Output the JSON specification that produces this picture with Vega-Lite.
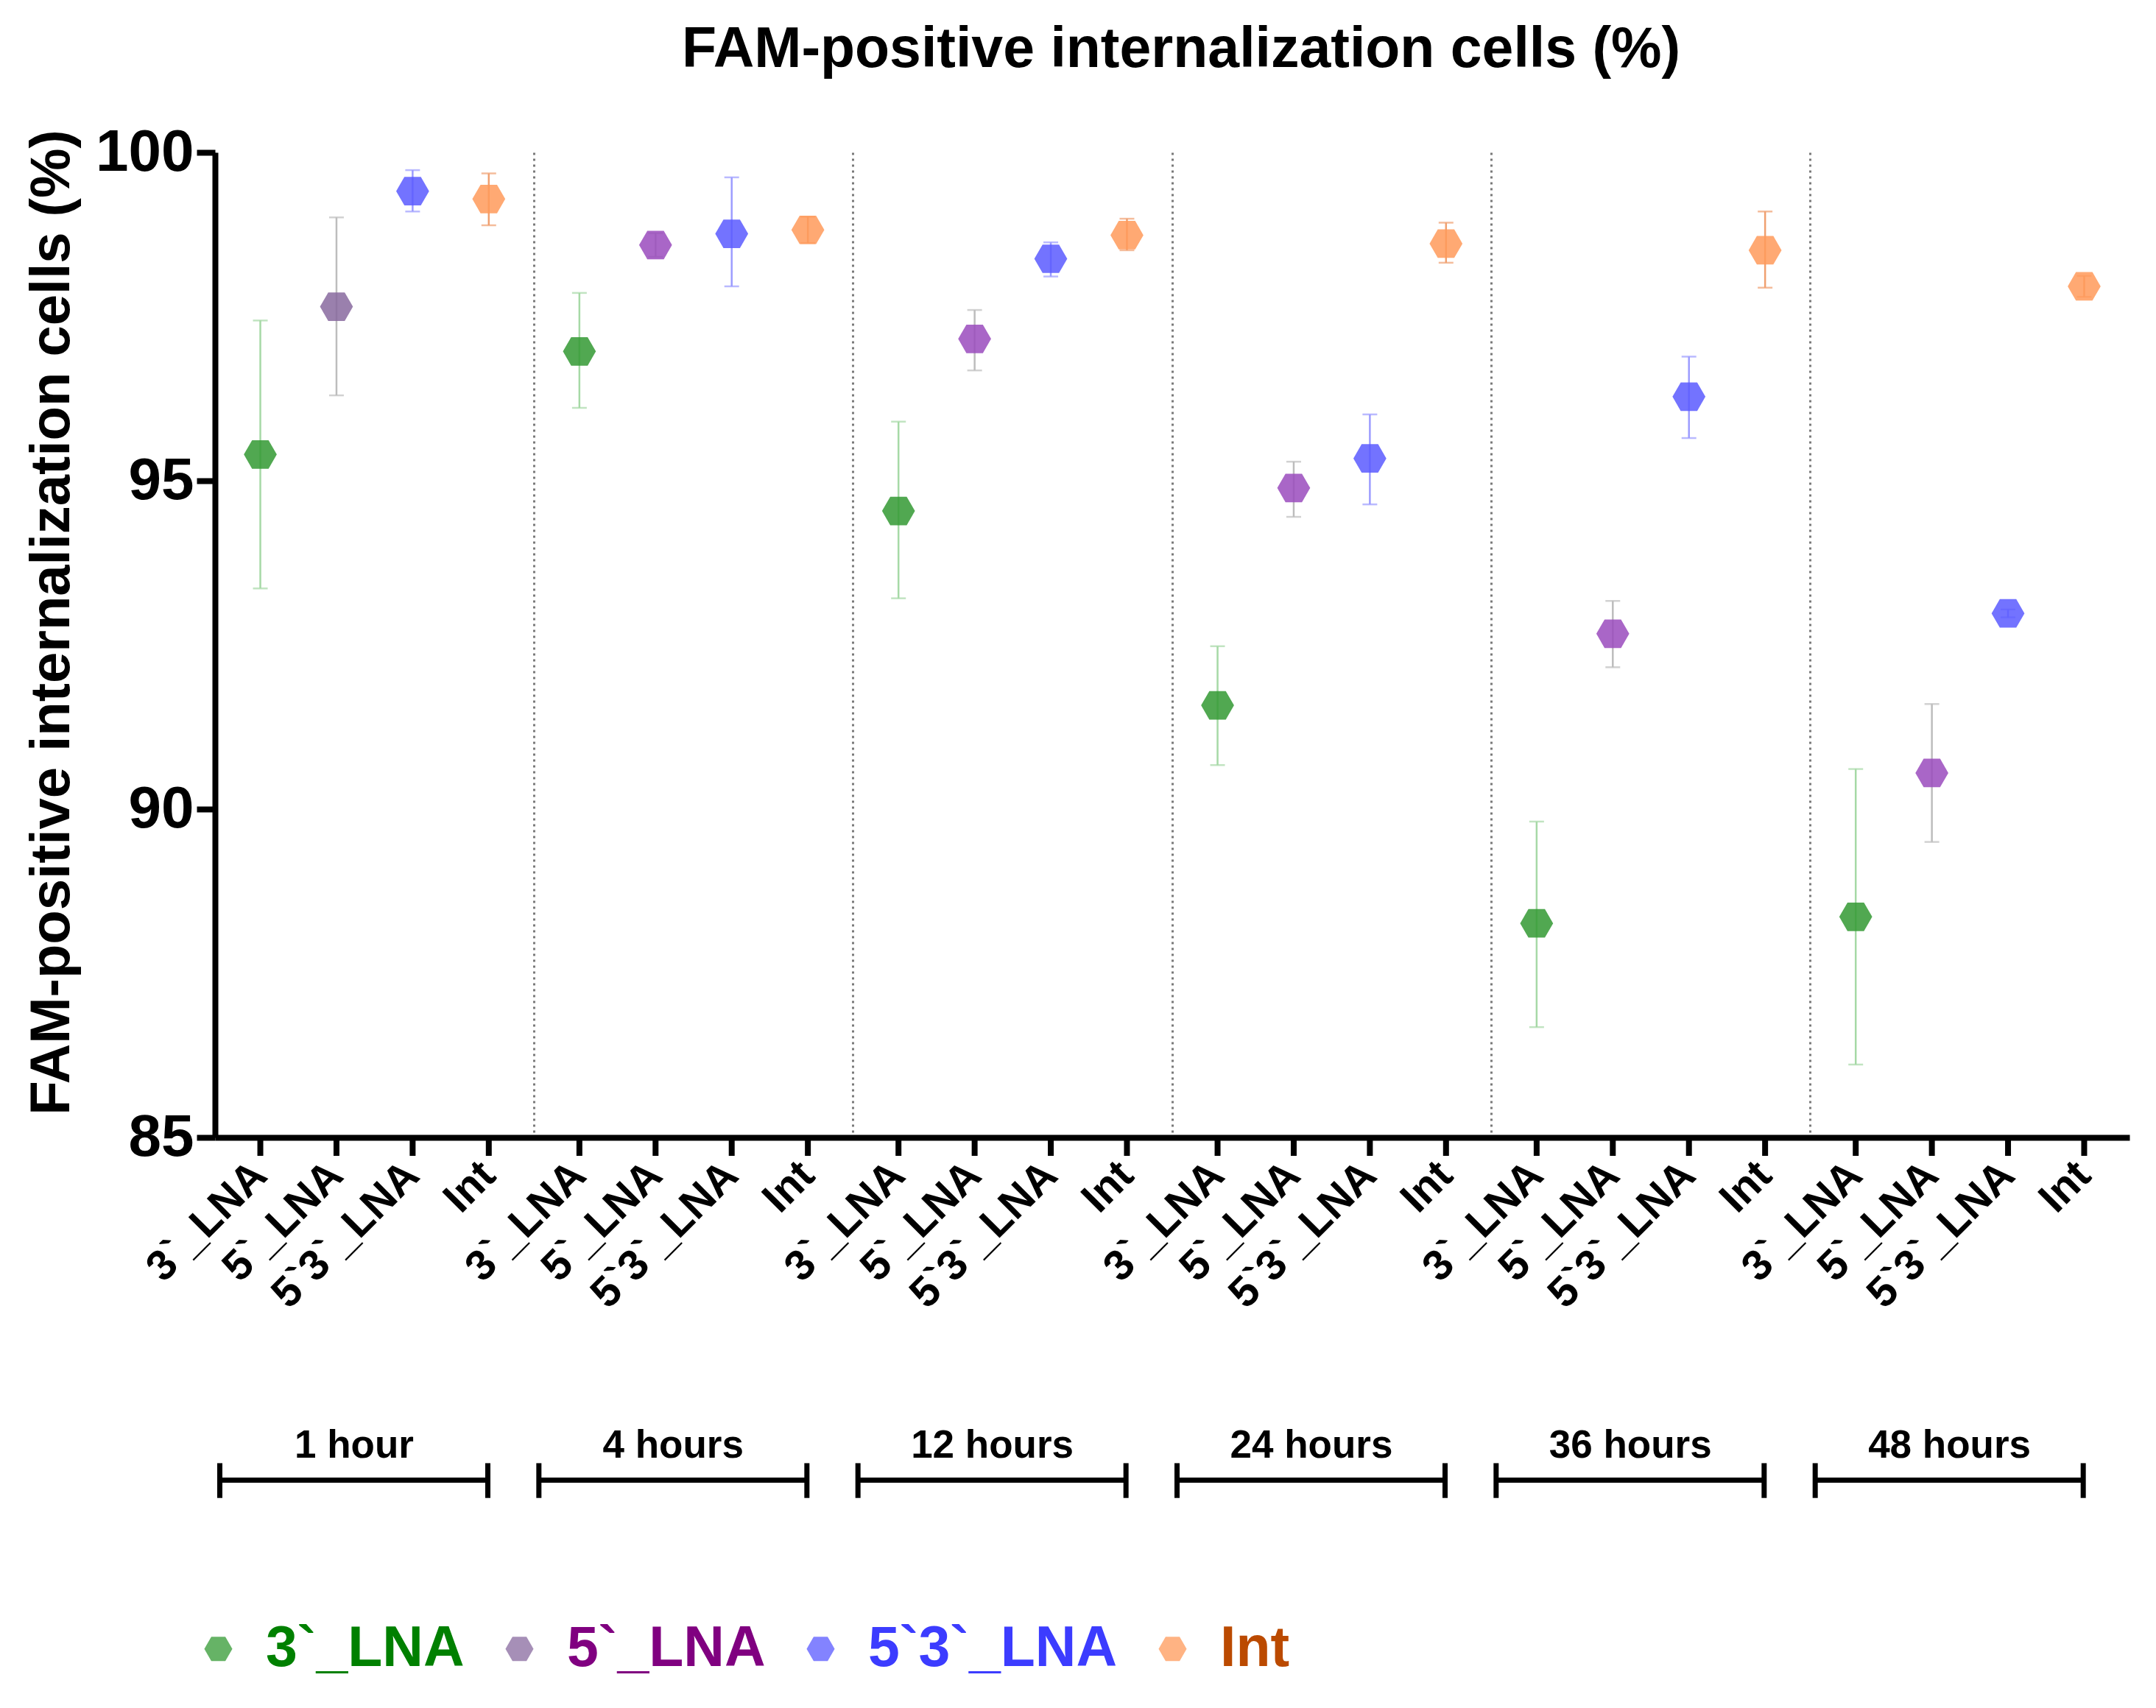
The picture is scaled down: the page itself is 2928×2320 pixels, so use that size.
{
  "$schema": "https://vega.github.io/schema/vega-lite/v6.json",
  "width": 2600,
  "height": 1338,
  "autosize": {"type": "none"},
  "padding": {"left": 292, "top": 207, "right": 36, "bottom": 775},
  "background": "white",
  "title": {
    "text": "FAM-positive internalization cells (%)",
    "font": "Liberation Sans",
    "fontSize": 77,
    "fontWeight": "bold",
    "color": "black",
    "anchor": "middle",
    "dx": 12,
    "offset": 60
  },
  "config": {
    "view": {"stroke": null},
    "font": "Liberation Sans"
  },
  "datasets": {
    "points": [
      {"group": "1 hour", "sample": "3`_LNA", "mean": 95.40, "lo": 93.36, "hi": 97.44},
      {"group": "1 hour", "sample": "5`_LNA", "mean": 97.65, "lo": 96.30, "hi": 99.01},
      {"group": "1 hour", "sample": "5`3`_LNA", "mean": 99.41, "lo": 99.10, "hi": 99.73},
      {"group": "1 hour", "sample": "Int", "mean": 99.29, "lo": 98.89, "hi": 99.68},
      {"group": "4 hours", "sample": "3`_LNA", "mean": 96.97, "lo": 96.11, "hi": 97.86},
      {"group": "4 hours", "sample": "5`_LNA", "mean": 98.59, "lo": 98.41, "hi": 98.77},
      {"group": "4 hours", "sample": "5`3`_LNA", "mean": 98.76, "lo": 97.96, "hi": 99.62},
      {"group": "4 hours", "sample": "Int", "mean": 98.82, "lo": 98.62, "hi": 99.02},
      {"group": "12 hours", "sample": "3`_LNA", "mean": 94.54, "lo": 93.21, "hi": 95.90},
      {"group": "12 hours", "sample": "5`_LNA", "mean": 97.16, "lo": 96.68, "hi": 97.60},
      {"group": "12 hours", "sample": "5`3`_LNA", "mean": 98.38, "lo": 98.11, "hi": 98.63},
      {"group": "12 hours", "sample": "Int", "mean": 98.74, "lo": 98.51, "hi": 98.99},
      {"group": "24 hours", "sample": "3`_LNA", "mean": 91.58, "lo": 90.67, "hi": 92.48},
      {"group": "24 hours", "sample": "5`_LNA", "mean": 94.89, "lo": 94.45, "hi": 95.29},
      {"group": "24 hours", "sample": "5`3`_LNA", "mean": 95.34, "lo": 94.64, "hi": 96.01},
      {"group": "24 hours", "sample": "Int", "mean": 98.61, "lo": 98.32, "hi": 98.93},
      {"group": "36 hours", "sample": "3`_LNA", "mean": 88.26, "lo": 86.68, "hi": 89.81},
      {"group": "36 hours", "sample": "5`_LNA", "mean": 92.67, "lo": 92.16, "hi": 93.17},
      {"group": "36 hours", "sample": "5`3`_LNA", "mean": 96.28, "lo": 95.65, "hi": 96.89},
      {"group": "36 hours", "sample": "Int", "mean": 98.51, "lo": 97.94, "hi": 99.10},
      {"group": "48 hours", "sample": "3`_LNA", "mean": 88.36, "lo": 86.11, "hi": 90.61},
      {"group": "48 hours", "sample": "5`_LNA", "mean": 90.55, "lo": 89.50, "hi": 91.60},
      {"group": "48 hours", "sample": "5`3`_LNA", "mean": 92.98, "lo": 92.92, "hi": 93.04},
      {"group": "48 hours", "sample": "Int", "mean": 97.96, "lo": 97.80, "hi": 98.12}
    ],
    "groups": [
      {"group": "1 hour"},
      {"group": "4 hours"},
      {"group": "12 hours"},
      {"group": "24 hours"},
      {"group": "36 hours"},
      {"group": "48 hours"}
    ]
  },
  "data": {"name": "points"},
  "encoding": {
    "x": {
      "field": "group",
      "type": "nominal",
      "scale": {
        "type": "band",
        "domain": ["1 hour", "4 hours", "12 hours", "24 hours", "36 hours", "48 hours"],
        "paddingInner": 0,
        "paddingOuter": 0
      },
      "axis": {
        "title": null,
        "labels": false,
        "ticks": false,
        "bandPosition": 0,
        "grid": true,
        "gridDash": [3, 5],
        "gridColor": "#7a7a7a",
        "gridWidth": 3,
        "domainColor": "black",
        "domainWidth": 8
      }
    }
  },
  "layer": [
    {
      "layer": [
        {
          "mark": {"type": "rule", "strokeWidth": 2.5},
          "encoding": {
            "y": {"field": "lo", "type": "quantitative"},
            "y2": {"field": "hi"}
          }
        },
        {
          "mark": {"type": "tick", "thickness": 2.5, "size": 20},
          "encoding": {"y": {"field": "lo", "type": "quantitative"}}
        },
        {
          "mark": {"type": "tick", "thickness": 2.5, "size": 20},
          "encoding": {"y": {"field": "hi", "type": "quantitative"}}
        }
      ],
      "encoding": {
        "xOffset": {
          "field": "sample",
          "type": "nominal",
          "scale": {
            "type": "band",
            "domain": ["3`_LNA", "5`_LNA", "5`3`_LNA", "Int"],
            "paddingInner": 0,
            "paddingOuter": 0.095
          }
        },
        "color": {
          "field": "sample",
          "type": "nominal",
          "scale": {
            "domain": ["3`_LNA", "5`_LNA", "5`3`_LNA", "Int"],
            "range": ["#a6d9a6", "#bdbdbd", "#9c9cff", "#f0a070"]
          },
          "legend": null
        }
      }
    },
    {
      "mark": {
        "type": "point",
        "shape": "M-1,0L-0.5,-0.866L0.5,-0.866L1,0L0.5,0.866L-0.5,0.866Z",
        "filled": true,
        "size": 2000,
        "opacity": 0.85,
        "strokeWidth": 0
      },
      "encoding": {
        "xOffset": {"field": "sample", "type": "nominal"},
        "y": {
          "field": "mean",
          "type": "quantitative",
          "scale": {"domain": [85, 100], "nice": false, "zero": false},
          "axis": {
            "title": "FAM-positive internalization cells (%)",
            "titleFont": "Liberation Sans",
            "titleFontSize": 76,
            "titleFontWeight": "bold",
            "titleColor": "black",
            "titleAngle": 270,
            "titleAlign": "center",
            "titleBaseline": "middle",
            "titleX": -222,
            "titleY": 638,
            "values": [85, 90, 95, 100],
            "format": "d",
            "grid": false,
            "domainColor": "black",
            "domainWidth": 8,
            "tickColor": "black",
            "tickWidth": 8,
            "tickSize": 25,
            "labelFont": "Liberation Sans",
            "labelFontSize": 80,
            "labelFontWeight": "bold",
            "labelColor": "black",
            "labelLimit": 400,
            "labelPadding": 4
          }
        },
        "color": {
          "condition": {
            "test": "datum.sample == '5`_LNA' && datum.group != '1 hour'",
            "value": "#9a4bbd"
          },
          "field": "sample",
          "type": "nominal",
          "scale": {
            "domain": ["3`_LNA", "5`_LNA", "5`3`_LNA", "Int"],
            "range": ["#339933", "#886a9f", "#5a5aff", "#ff9a5a"]
          },
          "legend": {
            "title": null,
            "orient": "none",
            "direction": "horizontal",
            "legendX": -34,
            "legendY": 1994,
            "symbolType": "M-1,0L-0.5,-0.866L0.5,-0.866L1,0L0.5,0.866L-0.5,0.866Z",
            "symbolSize": 1450,
            "symbolOpacity": 0.75,
            "symbolStrokeWidth": 0,
            "labelFont": "Liberation Sans",
            "labelFontSize": 77,
            "labelFontWeight": "bold",
            "labelOffset": 26,
            "labelLimit": 600,
            "columnPadding": 36,
            "encode": {
              "labels": {
                "update": {
                  "fill": {
                    "signal": "datum.value == '3`_LNA' ? '#008000' : datum.value == '5`_LNA' ? '#800080' : datum.value == '5`3`_LNA' ? '#3c3cff' : '#bb4a00'"
                  }
                }
              }
            }
          }
        }
      }
    },
    {
      "mark": {"type": "rule", "strokeWidth": 8, "color": "black"},
      "encoding": {
        "xOffset": {"field": "sample", "type": "nominal"},
        "y": {"datum": 85},
        "y2": {"datum": 84.72}
      }
    },
    {
      "mark": {
        "type": "text",
        "angle": 315,
        "align": "right",
        "baseline": "middle",
        "font": "Liberation Sans",
        "fontSize": 58,
        "fontWeight": "bold",
        "color": "black"
      },
      "encoding": {
        "xOffset": {"field": "sample", "type": "nominal"},
        "y": {"datum": 84.52},
        "text": {"field": "sample"}
      }
    },
    {
      "data": {"name": "groups"},
      "mark": {
        "type": "text",
        "align": "center",
        "baseline": "middle",
        "font": "Liberation Sans",
        "fontSize": 53,
        "fontWeight": "bold",
        "color": "black"
      },
      "encoding": {
        "x": {"field": "group", "type": "nominal", "bandPosition": 0.436},
        "y": {"datum": 80.3},
        "text": {"field": "group"}
      }
    },
    {
      "data": {"name": "groups"},
      "mark": {"type": "rule", "strokeWidth": 7, "color": "black"},
      "encoding": {
        "x": {"field": "group", "type": "nominal", "bandPosition": 0.015},
        "x2": {"field": "group", "bandPosition": 0.855},
        "y": {"datum": 79.78}
      }
    },
    {
      "data": {"name": "groups"},
      "mark": {"type": "rule", "strokeWidth": 7, "color": "black"},
      "encoding": {
        "x": {"field": "group", "type": "nominal", "bandPosition": 0.015},
        "y": {"datum": 80.04},
        "y2": {"datum": 79.51}
      }
    },
    {
      "data": {"name": "groups"},
      "mark": {"type": "rule", "strokeWidth": 7, "color": "black"},
      "encoding": {
        "x": {"field": "group", "type": "nominal", "bandPosition": 0.855},
        "y": {"datum": 80.04},
        "y2": {"datum": 79.51}
      }
    }
  ],
  "resolve": {"scale": {"color": "independent"}}
}
